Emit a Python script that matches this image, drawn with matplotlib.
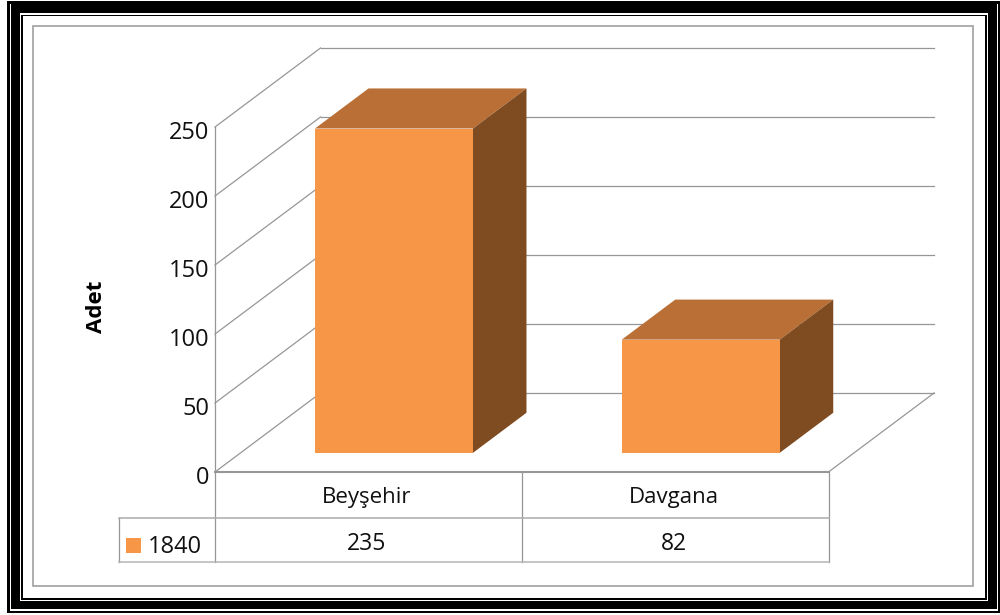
#!/usr/bin/env python3
import matplotlib
matplotlib.use("Agg")
import matplotlib.pyplot as plt
from matplotlib.patches import Rectangle
from matplotlib.transforms import Affine2D

plt.rcParams["font.family"] = ["Open Sans", "DejaVu Sans"]

# data
categories = ["Beyşehir", "Davgana"]
series_name = "1840"
values = [235, 82]
y_ticks = [0, 50, 100, 150, 200, 250]
y_label = "Adet"

FRONT = "#F79646"
TOP = "#B96F35"
SIDE = "#7F4C21"
GRID = "#969696"

W, H = 1000, 615
# front plane of the chart, in pixels
X0, X1, Y0, Y250 = 215, 828.5, 472, 127
# depth of the whole box / of a bar, in data units
DEPTH_X = 105.5 / 306.75
DEPTH_Y = 79 / 1.38
BAR_W = 0.515
BAR_D0 = 0.243
BAR_D1 = 0.75

fig = plt.figure(figsize=(W / 100, H / 100), dpi=100, facecolor="white")

# page furniture in pixel coordinates
bg = fig.add_axes([0, 0, 1, 1])
bg.set_xlim(0, W)
bg.set_ylim(H, 0)
bg.axis("off")


def box(x0, y0, x1, y1, color="black"):
    bg.add_patch(Rectangle((x0, y0), x1 - x0, y1 - y0, fc=color, ec="none"))


# triple black border
box(7, 1, 1000, 612.5)
box(9.5, 3.5, 998, 610.5, "white")
box(11, 4, 996.5, 609)
box(19.5, 13, 988, 600.5, "white")
box(21, 14.5, 987, 599.5)
box(22.5, 16, 985, 598, "white")
# grey chart frame
bg.add_patch(Rectangle((32.5, 26), 940, 560, fc="white", ec="#A0A0A0", lw=1.2))

ax = fig.add_axes([X0 / W, 1 - Y0 / H, (X1 - X0) / W, (Y0 - Y250) / H])
ax.set_xlim(0, len(categories))
ax.set_ylim(0, y_ticks[-1])
ax.patch.set_visible(False)
for s in ax.spines.values():
    s.set_visible(False)
ax.set_xticks([])
ax.set_yticks(y_ticks)
ax.tick_params(axis="y", length=0, pad=4, labelsize=17, labelcolor="#111111")
for lab in ax.get_yticklabels():
    lab.set_transform(lab.get_transform() + Affine2D().translate(0, -3))


def proj(x, v, d):
    return x + d * DEPTH_X, v + d * DEPTH_Y


def line(p, q, lw=0.9):
    ax.plot([p[0], q[0]], [p[1], q[1]], color=GRID, lw=lw, clip_on=False, zorder=1)


n = len(categories)
for v in y_ticks:
    line(proj(0, v, 0), proj(0, v, 1))
    line(proj(0, v, 1), proj(n, v, 1))
line(proj(0, 0, 0), proj(n, 0, 0), 1.5)
line(proj(n, 0, 0), proj(n, 0, 1))
line(proj(0, 0, 0), proj(0, y_ticks[-1], 0))

for i, v in enumerate(values):
    l, r = i + 0.5 - BAR_W / 2, i + 0.5 + BAR_W / 2
    faces = [
        ([(l, v, BAR_D0), (r, v, BAR_D0), (r, v, BAR_D1), (l, v, BAR_D1)], TOP),
        ([(r, 0, BAR_D0), (r, v, BAR_D0), (r, v, BAR_D1), (r, 0, BAR_D1)], SIDE),
        ([(l, 0, BAR_D0), (r, 0, BAR_D0), (r, v, BAR_D0), (l, v, BAR_D0)], FRONT),
    ]
    for pts, col in faces:
        xy = [proj(*p) for p in pts]
        ax.fill([a for a, _ in xy], [b for _, b in xy], color=col, lw=0,
                clip_on=False, zorder=3)

bg.text(97, 307, y_label, rotation=90, ha="center", va="center",
        fontsize=16, fontweight="bold", color="black")

# data table under the chart
TAB_L, TAB_M, TAB_B = 118.5, 518, 562
col_x = [X0 + (X1 - X0) * i / n for i in range(n + 1)]
for x in col_x:
    bg.plot([x, x], [Y0, TAB_B], color=GRID, lw=0.9)
bg.plot([TAB_L, TAB_L], [TAB_M, TAB_B], color=GRID, lw=0.9)
bg.plot([TAB_L, X1], [TAB_M, TAB_M], color="#ABABAB", lw=1.1)
bg.plot([TAB_L, X1], [TAB_B, TAB_B], color="#B5B5B5", lw=1.1)

for i in range(n):
    cx = (col_x[i] + col_x[i + 1]) / 2 - 1.5
    bg.text(cx, 498, categories[i], ha="center", va="center",
            fontsize=16, color="#111111")
    bg.text(cx, 544.5, str(values[i]), ha="center", va="center",
            fontsize=16.5, color="#111111")
box(126, 538, 141, 553, FRONT)
bg.text(148, 547, series_name, ha="left", va="center", fontsize=17, color="#111111")

fig.savefig("out.png", dpi=100)
